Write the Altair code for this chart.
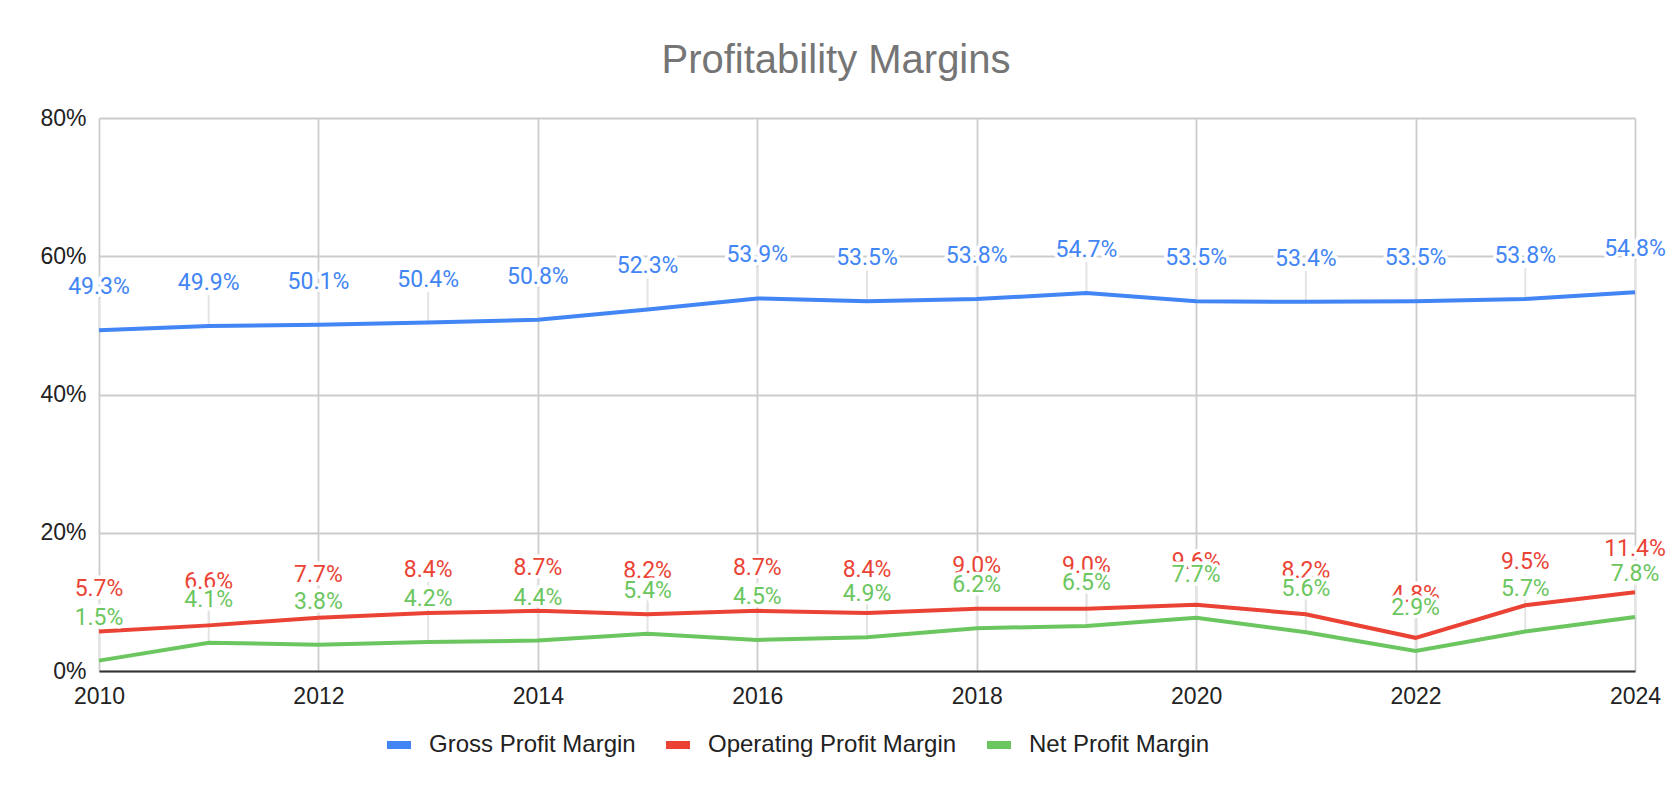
import altair as alt
import pandas as pd

years = list(range(2010, 2025))
gross = [49.3, 49.9, 50.1, 50.4, 50.8, 52.3, 53.9, 53.5, 53.8, 54.7, 53.5, 53.4, 53.5, 53.8, 54.8]
operating = [5.7, 6.6, 7.7, 8.4, 8.7, 8.2, 8.7, 8.4, 9.0, 9.0, 9.6, 8.2, 4.8, 9.5, 11.4]
net = [1.5, 4.1, 3.8, 4.2, 4.4, 5.4, 4.5, 4.9, 6.2, 6.5, 7.7, 5.6, 2.9, 5.7, 7.8]
series_names = ["Gross Profit Margin", "Operating Profit Margin", "Net Profit Margin"]
series_colors = ["#4285F4", "#EA4335", "#6BC660"]
year_ticks = [2010, 2012, 2014, 2016, 2018, 2020, 2022, 2024]
pct_ticks = [0, 20, 40, 60, 80]

rows = []
for name, vals in zip(series_names, [gross, operating, net]):
    for yr, v in zip(years, vals):
        rows.append({"year": yr, "series": name, "value": v, "label": f"{v:.1f}%"})
df = pd.DataFrame(rows)

x = alt.X(
    "year:Q",
    scale=alt.Scale(domain=[2010, 2024], nice=False, zero=False),
    axis=alt.Axis(
        values=year_ticks, format="d", title=None, grid=True,
        gridColor="#cccccc", gridWidth=1.8, domain=True, domainColor="#333333",
        domainWidth=2, ticks=False, tickSize=0, labelPadding=14,
        labelFont="Liberation Sans", labelFontSize=23, labelColor="#222222",
        labelBaseline="top", labelFlush=False,
    ),
)
y = alt.Y(
    "value:Q",
    scale=alt.Scale(domain=[0, 80], nice=False),
    axis=alt.Axis(
        values=pct_ticks, labelExpr="datum.value + '%'", title=None, grid=True,
        gridColor="#cccccc", gridWidth=1.8, domain=False, ticks=False, tickSize=0,
        labelPadding=13, labelFont="Liberation Sans", labelFontSize=23,
        labelColor="#222222", labelBaseline="middle",
    ),
)
color = alt.Color(
    "series:N",
    scale=alt.Scale(domain=series_names, range=series_colors),
    sort=series_names,
    legend=alt.Legend(
        title=None, orient="none", legendX=284, legendY=611, direction="horizontal",
        symbolType="stroke", symbolSize=576, symbolStrokeWidth=8,
        labelFont="Liberation Sans", labelFontSize=24, labelColor="#222222",
        labelOffset=14, columnPadding=14, labelLimit=0,
    ),
)

base = alt.Chart(df)

leaders = base.mark_rule(color="#e4e4e4", strokeWidth=2, y2Offset=-31).encode(
    x=x, y=y, y2=alt.Y2("value:Q")
)
lines = base.mark_line(strokeWidth=4).encode(x=x, y=y, color=color)

layers = [leaders, lines]
for name, col in zip(series_names, series_colors):
    sub = base.transform_filter(alt.datum.series == name)
    halo = sub.mark_text(
        font="Roboto", fontSize=23, dy=-43, baseline="middle", align="center",
        fill="white", stroke="white", strokeWidth=7, strokeJoin="round",
    ).encode(x=x, y=y, text="label:N")
    txt = sub.mark_text(
        font="Roboto", fontSize=23, dy=-43, baseline="middle", align="center",
        color=col,
    ).encode(x=x, y=y, text="label:N")
    layers += [halo, txt]

chart = alt.layer(*layers).properties(
    width=1536,
    height=553,
    title=alt.TitleParams(
        "Profitability Margins", font="Liberation Sans", fontSize=40,
        fontWeight="normal", color="#757575", anchor="middle", dx=-31, offset=26,
    ),
    autosize=alt.AutoSizeParams(type="none"),
    padding={"left": 91, "top": 110, "right": 31, "bottom": 119},
).configure_view(stroke=None)

chart.save("out.html", embed_options={"renderer": "svg", "actions": False})
